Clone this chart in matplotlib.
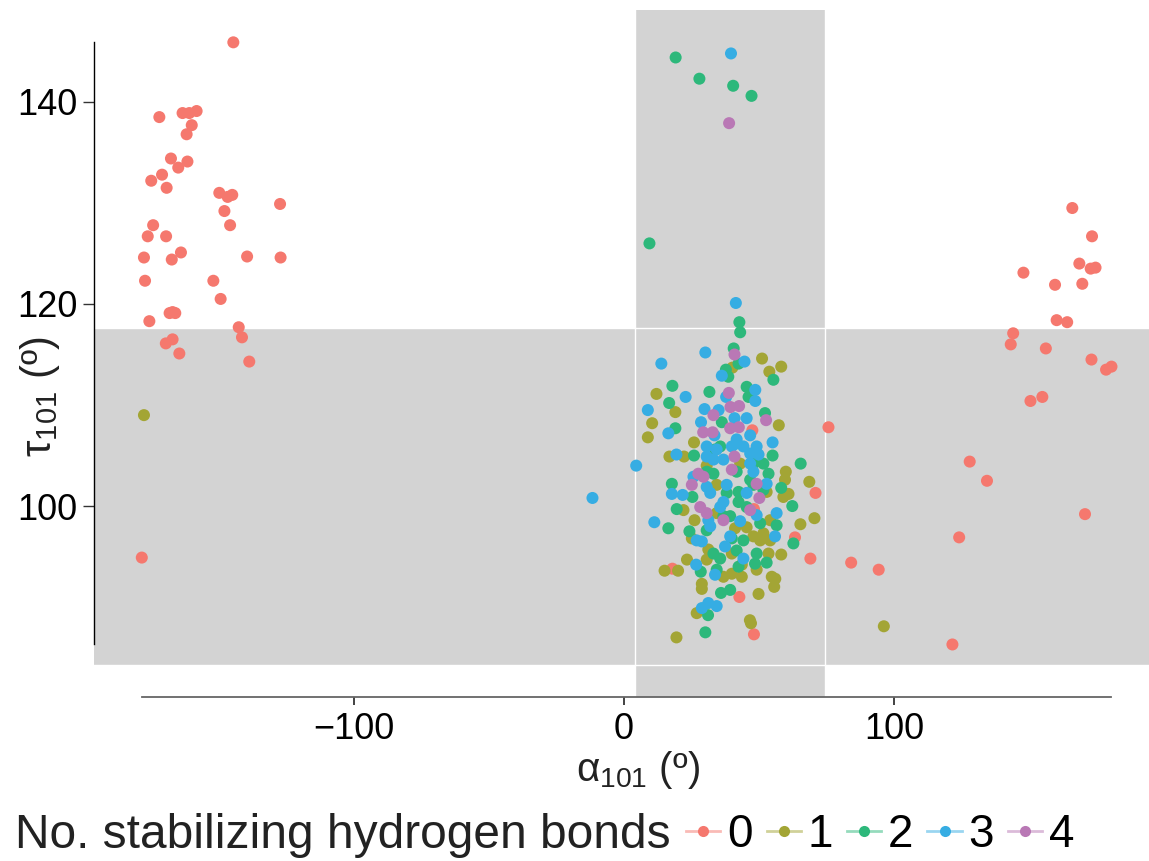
import matplotlib
matplotlib.use("Agg")
import matplotlib.pyplot as plt
from matplotlib.lines import Line2D

plt.rcParams['font.family'] = ['Liberation Sans', 'DejaVu Sans']
plt.rcParams['mathtext.fontset'] = 'custom'
plt.rcParams['mathtext.rm'] = 'Liberation Sans'

# alpha_101 / tau_101 in degrees, split by number of stabilizing H-bonds
hb0_alpha = [-144.7, -172.1, -163.5, -161.0, -158.3, -160.1, -162.0, -167.8, -161.7, -165.1,
             -171.1, -175.1, -169.4, -149.9, -146.8, -145.1, -127.4, -148.0, -145.9, -174.4,
             -176.4, -169.6, -164.1, -177.8, -167.5, -139.6, -127.2, -177.4, -152.1, -149.4,
             -168.3, -166.2, -167.2, -175.8, -142.7, -141.5, -169.7, -167.2, -164.7, -138.8,
             -178.6,
             166.0, 173.3, 168.6, 172.8, 174.6, 147.9, 159.6, 169.7, 160.2, 164.1,
             144.1, 143.2, 156.2, 173.1, 178.5, 180.5, 150.5, 154.9, 75.7, 128.0,
             134.4, 170.7, 124.1, 84.1, 94.3, 121.6, 70.9, 69.0, 63.3,
             47.5, 48.1, 17.9, 42.7, 48.1]
hb0_tau = [145.9, 138.5, 138.9, 138.9, 139.1, 137.7, 136.8, 134.4, 134.1, 133.5,
           132.8, 132.2, 131.5, 131.0, 130.6, 130.8, 129.9, 129.2, 127.8, 127.8,
           126.7, 126.7, 125.1, 124.6, 124.4, 124.7, 124.6, 122.3, 122.3, 120.5,
           119.1, 119.1, 119.2, 118.3, 117.7, 116.7, 116.1, 116.5, 115.1, 114.3,
           94.9,
           129.5, 126.7, 124.0, 123.5, 123.6, 123.1, 121.9, 122.0, 118.4, 118.2,
           117.1, 116.0, 115.6, 114.5, 113.5, 113.8, 110.4, 110.8, 107.8, 104.4,
           102.5, 99.2, 96.9, 94.4, 93.7, 86.3, 101.3, 94.8, 96.9,
           107.5, 99.7, 93.8, 91.0, 87.3]

hb1_alpha = [-177.8, 96.2, 68.6, 70.5, 65.3,
             51.1, 58.2, 53.8, 40.1, 12.0, 19.0, 10.4, 8.8, 57.3, 25.9,
             16.8, 22.2, 30.6, 43.0, 59.9, 59.6, 59.0, 60.9, 22.0, 26.1,
             54.1, 34.3, 52.8, 25.1, 31.2, 47.9, 50.4, 54.1, 53.5, 58.2,
             23.3, 15.0, 20.0, 30.6, 39.9, 43.6, 49.1, 54.7, 56.0, 55.6,
             28.8, 28.8, 36.8, 39.9, 43.6, 49.8, 46.6, 47.0, 19.4, 26.9,
             34.3, 41.1, 45.4, 51.6]
hb1_tau = [109.0, 88.1, 102.4, 98.8, 98.2,
           114.6, 113.8, 113.3, 113.7, 111.1, 109.3, 108.2, 106.8, 108.0, 106.3,
           104.9, 104.9, 104.0, 104.2, 103.4, 102.6, 100.9, 101.2, 99.6, 98.6,
           98.6, 102.1, 101.4, 96.8, 95.7, 97.0, 96.6, 96.6, 95.3, 95.2,
           94.7, 93.6, 93.6, 94.7, 95.3, 94.2, 93.7, 93.0, 92.8, 92.0,
           92.3, 91.8, 93.0, 93.3, 93.0, 91.3, 88.7, 88.4, 87.0, 89.4,
           99.3, 97.8, 97.9, 97.3]

hb2_alpha = [19.1, 27.9, 40.4, 47.2, 9.4, 42.7, 43.0, 62.7, 65.4, 62.3,
             40.6, 37.7, 38.6, 42.4, 55.3, 17.9, 31.6, 45.4, 46.1, 16.7,
             52.2, 19.0, 36.2, 33.7, 25.9, 35.6, 55.0, 47.9, 51.6,
             53.5, 17.7, 33.1, 41.7, 46.7, 58.2, 19.5, 25.3, 38.0, 42.4,
             42.4, 47.9, 51.6, 36.8, 45.4, 50.4, 56.5, 16.4, 24.2, 30.6,
             39.9, 44.2, 49.1, 52.8, 35.6, 33.1, 28.4, 34.3, 41.7, 42.4,
             48.5, 35.9, 39.3, 31.1, 30.1, 30.6, 39.3]
hb2_tau = [144.4, 142.3, 141.6, 140.6, 126.0, 118.2, 117.2, 96.3, 104.2, 100.0,
           115.6, 113.5, 112.8, 114.1, 112.5, 111.9, 111.3, 111.8, 110.8, 110.2,
           109.2, 107.7, 108.3, 105.6, 105.0, 105.9, 105.0, 104.2, 104.2,
           103.2, 102.2, 103.2, 103.4, 102.6, 101.8, 99.7, 100.9, 101.3, 101.4,
           100.4, 102.1, 101.6, 99.0, 99.9, 98.3, 98.1, 97.8, 97.5, 97.6,
           96.8, 96.6, 95.3, 94.4, 94.8, 95.3, 93.5, 93.7, 95.6, 94.0,
           94.3, 91.4, 91.7, 89.2, 87.5, 103.4, 99.0]

hb3_alpha = [39.6, 41.4, 30.1, 13.8, 44.6, 36.2, 22.8, 37.8, 48.6, 48.6,
             8.8, 29.8, 35.0, 28.5, 40.9, 45.4, 16.4, 33.5, 46.7, 41.7,
             49.1, 55.0, 30.6, 19.4, 4.5, -11.7, 36.8, 46.7, 49.8, 47.9,
             33.1, 25.7, 17.7, 21.7, 31.9, 30.6, 38.0, 36.8, 45.4, 52.8,
             49.1, 56.5, 11.2, 31.2, 43.0, 35.6, 31.9, 39.3, 55.9, 26.9,
             28.8, 37.4, 26.7, 33.7, 28.8, 31.2, 34.3, 44.2, 41.7, 44.2,
             39.9, 34.3, 30.6, 46.7]
hb3_tau = [144.8, 120.1, 115.2, 114.1, 114.3, 112.9, 110.8, 110.8, 111.5, 110.4,
           109.5, 109.6, 109.5, 108.3, 108.7, 108.7, 107.2, 107.0, 107.0, 106.6,
           105.9, 106.3, 105.9, 105.1, 104.0, 100.8, 104.6, 105.2, 105.1, 103.4,
           104.6, 102.9, 101.2, 101.1, 101.3, 101.9, 102.1, 100.4, 101.3, 102.2,
           99.1, 99.3, 98.4, 98.6, 98.5, 99.9, 98.0, 97.0, 97.0, 96.6,
           96.5, 96.0, 94.2, 93.2, 89.9, 90.4, 90.1, 94.8, 106.2, 105.9,
           105.9, 105.6, 104.9, 104.2]

hb4_alpha = [38.9, 40.9, 38.8, 39.4, 42.6, 52.6, 29.3, 32.8, 39.3, 42.5,
             27.5, 29.4, 25.1, 39.9, 40.9, 50.1, 28.2, 30.6, 36.8, 46.7,
             33.1, 49.1]
hb4_tau = [137.9, 115.0, 111.2, 109.8, 109.9, 108.5, 107.3, 107.3, 107.7, 107.8,
           103.2, 102.9, 102.1, 103.6, 104.9, 100.8, 99.9, 99.3, 98.6, 99.6,
           109.0, 102.2]

groups = ['0', '1', '2', '3', '4']
colors = ['#F5786E', '#A3A535', '#2DB87B', '#36ADE3', '#B978B5']

# shaded regions (degrees)
alpha_band = (4.1, 74.4)
tau_band = (84.3, 117.6)

fig = plt.figure(figsize=(11.49, 8.61), dpi=100)
ax = fig.add_axes([94 / 1149, 1 - 697 / 861, 1055 / 1149, 687 / 861])
ax.set_xlim(-196.3, 194.4)
ax.set_ylim(81.1, 149.1)

ax.axvspan(*alpha_band, color='#D3D3D3', lw=0, zorder=0)
ax.axhspan(*tau_band, color='#D3D3D3', lw=0, zorder=0)
for v in alpha_band:
    ax.axvline(v, color='white', lw=1, zorder=0.5)
for v in tau_band:
    ax.axhline(v, color='white', lw=1, zorder=0.5)

series = [(hb0_alpha, hb0_tau), (hb1_alpha, hb1_tau), (hb2_alpha, hb2_tau),
          (hb3_alpha, hb3_tau), (hb4_alpha, hb4_tau)]
for (a, t), c in zip(series, colors):
    ax.scatter(a, t, s=75, color=c, edgecolors='none', zorder=2)

all_a = [v for a, _ in series for v in a]
all_t = [v for _, t in series for v in t]

for s in ['top', 'right']:
    ax.spines[s].set_visible(False)
ax.spines['left'].set_bounds(min(all_t), max(all_t))
ax.spines['left'].set_color('black')
ax.spines['left'].set_linewidth(1)
ax.spines['bottom'].set_bounds(min(all_a), max(all_a))
ax.spines['bottom'].set_color('#666666')
ax.spines['bottom'].set_linewidth(1.3)

ax.set_xticks([-100, 0, 100])
ax.set_yticks([100, 120, 140])
ax.set_xticklabels(['\u2212100', '0', '100'])
ax.tick_params(axis='both', labelsize=26, colors='#333333', labelcolor='black')
ax.tick_params(axis='y', length=8, width=1, pad=4)
ax.tick_params(axis='x', length=6, width=1.3, pad=5)

fig.text(638 / 1149, 1 - 770 / 861, 'α$_{\\mathregular{101}}$ (º)', fontsize=29,
         ha='center', va='center', color='#222222')
fig.text(40 / 1149, 1 - 397 / 861, 'τ$_{\\mathregular{101}}$ (º)', fontsize=30,
         ha='center', va='center', rotation=90, color='#222222')

fig.text(15 / 1149, 1 - 835 / 861, 'No. stabilizing hydrogen bonds', fontsize=34.5,
         ha='left', va='center', color='#222222')
handles = []
for c in colors:
    seg = Line2D([], [], color=c, lw=2, alpha=0.5)
    dot = Line2D([], [], color=c, marker='o', markersize=8, lw=0, markeredgewidth=0)
    handles.append((seg, dot))
fig.legend(handles, groups, loc='center left', ncol=5,
           bbox_to_anchor=(686 / 1149, 1 - 835 / 861), frameon=False,
           fontsize=33, handlelength=0.75, handletextpad=0.15,
           columnspacing=0.3, borderpad=0, borderaxespad=0)

fig.savefig('out.png', dpi=100)
